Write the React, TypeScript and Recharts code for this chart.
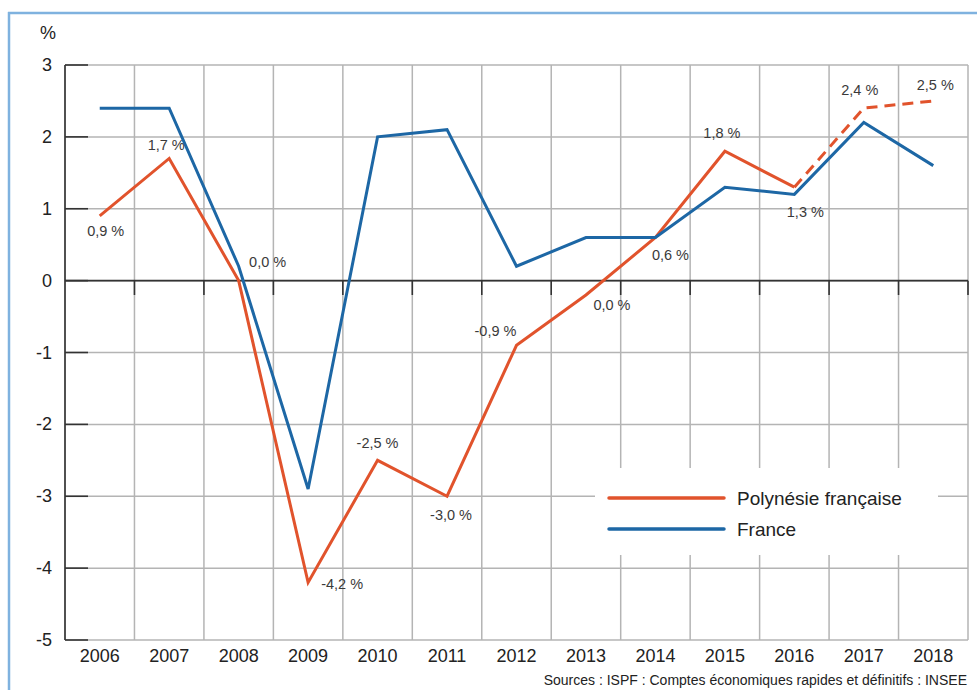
import React from 'react';
import { LineChart, Line, XAxis, YAxis, CartesianGrid, ReferenceLine, LabelList } from 'recharts';

const years = ['2006', '2007', '2008', '2009', '2010', '2011', '2012', '2013', '2014', '2015', '2016', '2017', '2018'];
const polynesie = [0.9, 1.7, 0.0, -4.2, -2.5, -3.0, -0.9, -0.2, 0.6, 1.8, 1.3, null, null];
const polynesieProvisoire = [null, null, null, null, null, null, null, null, null, null, 1.3, 2.4, 2.5];
const france = [2.4, 2.4, 0.2, -2.9, 2.0, 2.1, 0.2, 0.6, 0.6, 1.3, 1.2, 2.2, 1.6];
const polynesieLabels = ['0,9 %', '1,7 %', '0,0 %', '-4,2 %', '-2,5 %', '-3,0 %', '-0,9 %', '0,0 %', '0,6 %', '1,8 %', '1,3 %', '2,4 %', '2,5 %'];
const yTicks = [-5, -4, -3, -2, -1, 0, 1, 2, 3];
const seriesNames = ['Polynésie française', 'France'];
const unitLabel = '%';
const sourceText = 'Sources : ISPF : Comptes économiques rapides et définitifs : INSEE';

const RED = '#e1532c';
const BLUE = '#1d67a5';
const GRID = '#b4b4b4';
const DARK = '#333333';
const FONT = '"Liberation Sans", Arial, Helvetica, sans-serif';

// category slots: each year occupies one unit, its point sits in the middle of the slot
const boundaries = years.map((_, i) => i).concat([years.length]);
const centers = years.map((_, i) => i + 0.5);

// label placement (style only): offsets relative to the data point
const LABEL_OFFSETS: [number, number][] = [
  [6, 15], [-3, -13], [29, -19], [34, 1], [0, -17], [4, 19], [-21, -14],
  [26, 10], [15, 17], [-3, -18], [11, 25], [-4, -18], [2, -16],
];

const data = years.map((year, i) => ({
  year,
  pos: centers[i],
  poly: polynesie[i],
  polyProv: polynesieProvisoire[i],
  polyAll: polynesie[i] ?? polynesieProvisoire[i],
  france: france[i],
  label: polynesieLabels[i],
}));

const YTick = (props: any) => {
  const { x, y, payload } = props;
  return (
    <g>
      <line x1={x + 13} x2={x + 36} y1={y} y2={y} stroke={DARK} strokeWidth={1.6} />
      <text x={x} y={y} textAnchor="end" dominantBaseline="central" fontSize={18} fill="#222" fontFamily={FONT}>
        {payload.value}
      </text>
    </g>
  );
};

const PointLabel = (props: any) => {
  const { x, y, index } = props;
  const [dx, dy] = LABEL_OFFSETS[index] || [0, 0];
  return (
    <text x={x + dx} y={y + dy} textAnchor="middle" dominantBaseline="central" fontSize={14.5} fill="#3a3a3a" fontFamily={FONT}>
      {polynesieLabels[index]}
    </text>
  );
};

export default function App() {
  return (
    <div style={{ position: 'absolute', left: 0, top: 0, width: 977, height: 690, background: '#fff', fontFamily: FONT }}>
      <LineChart width={977} height={690} data={data} margin={{ top: 65, right: 9, left: 0, bottom: 20 }}>
        <XAxis
          dataKey="pos"
          type="number"
          domain={[0, years.length]}
          allowDataOverflow
          ticks={centers}
          tickFormatter={(v: number) => years[Math.floor(v)]}
          axisLine={false}
          tickLine={false}
          tickSize={0}
          tickMargin={9}
          interval={0}
          height={30}
          tick={{ fontSize: 18, fill: '#222', fontFamily: FONT }}
        />
        <YAxis
          type="number"
          domain={[-5, 3]}
          ticks={yTicks}
          width={65}
          tickSize={0}
          tickMargin={13}
          tickLine={false}
          axisLine={false}
          tick={<YTick />}
          interval={0}
        />
        <CartesianGrid stroke={GRID} strokeWidth={1.5} verticalValues={boundaries} horizontalValues={yTicks} />
        <ReferenceLine y={0} stroke={DARK} strokeWidth={1.6} />
        <ReferenceLine x={0} stroke={DARK} strokeWidth={1.6} />
        {boundaries.slice(1).map((b) => (
          <ReferenceLine
            key={b}
            segment={[{ x: b, y: 0 }, { x: b, y: -0.2 }]}
            stroke={DARK}
            strokeWidth={1.6}
          />
        ))}
        <Line dataKey="poly" stroke={RED} strokeWidth={3} dot={false} isAnimationActive={false} connectNulls={false} />
        <Line dataKey="polyProv" stroke={RED} strokeWidth={3} strokeDasharray="11 7" dot={false} isAnimationActive={false} connectNulls={false} />
        <Line dataKey="france" stroke={BLUE} strokeWidth={3} dot={false} isAnimationActive={false} />
        <Line dataKey="polyAll" stroke="none" dot={false} isAnimationActive={false}>
          <LabelList dataKey="label" content={<PointLabel />} />
        </Line>
      </LineChart>
      <svg width={977} height={690} style={{ position: 'absolute', left: 0, top: 0, pointerEvents: 'none' }}>
        <line x1={9} x2={9} y1={12} y2={690} stroke="#7fb2df" strokeWidth={2.5} />
        <line x1={8} x2={977} y1={13} y2={13} stroke="#7fb2df" strokeWidth={2.5} />
        <text x={40} y={39} fontSize={18} fill="#222" fontFamily={FONT}>{unitLabel}</text>
        <text x={967} y={685} textAnchor="end" fontSize={14} fill="#222" fontFamily={FONT}>{sourceText}</text>
        <rect x={595} y={468} width={343} height={87} fill="#fff" />
        <line x1={609} x2={724} y1={498} y2={498} stroke={RED} strokeWidth={3.5} strokeLinecap="round" />
        <line x1={609} x2={724} y1={529} y2={529} stroke={BLUE} strokeWidth={3.5} strokeLinecap="round" />
        <text x={737} y={498} dominantBaseline="central" fontSize={19} fill="#222" fontFamily={FONT}>{seriesNames[0]}</text>
        <text x={737} y={529} dominantBaseline="central" fontSize={19} fill="#222" fontFamily={FONT}>{seriesNames[1]}</text>
      </svg>
    </div>
  );
}
